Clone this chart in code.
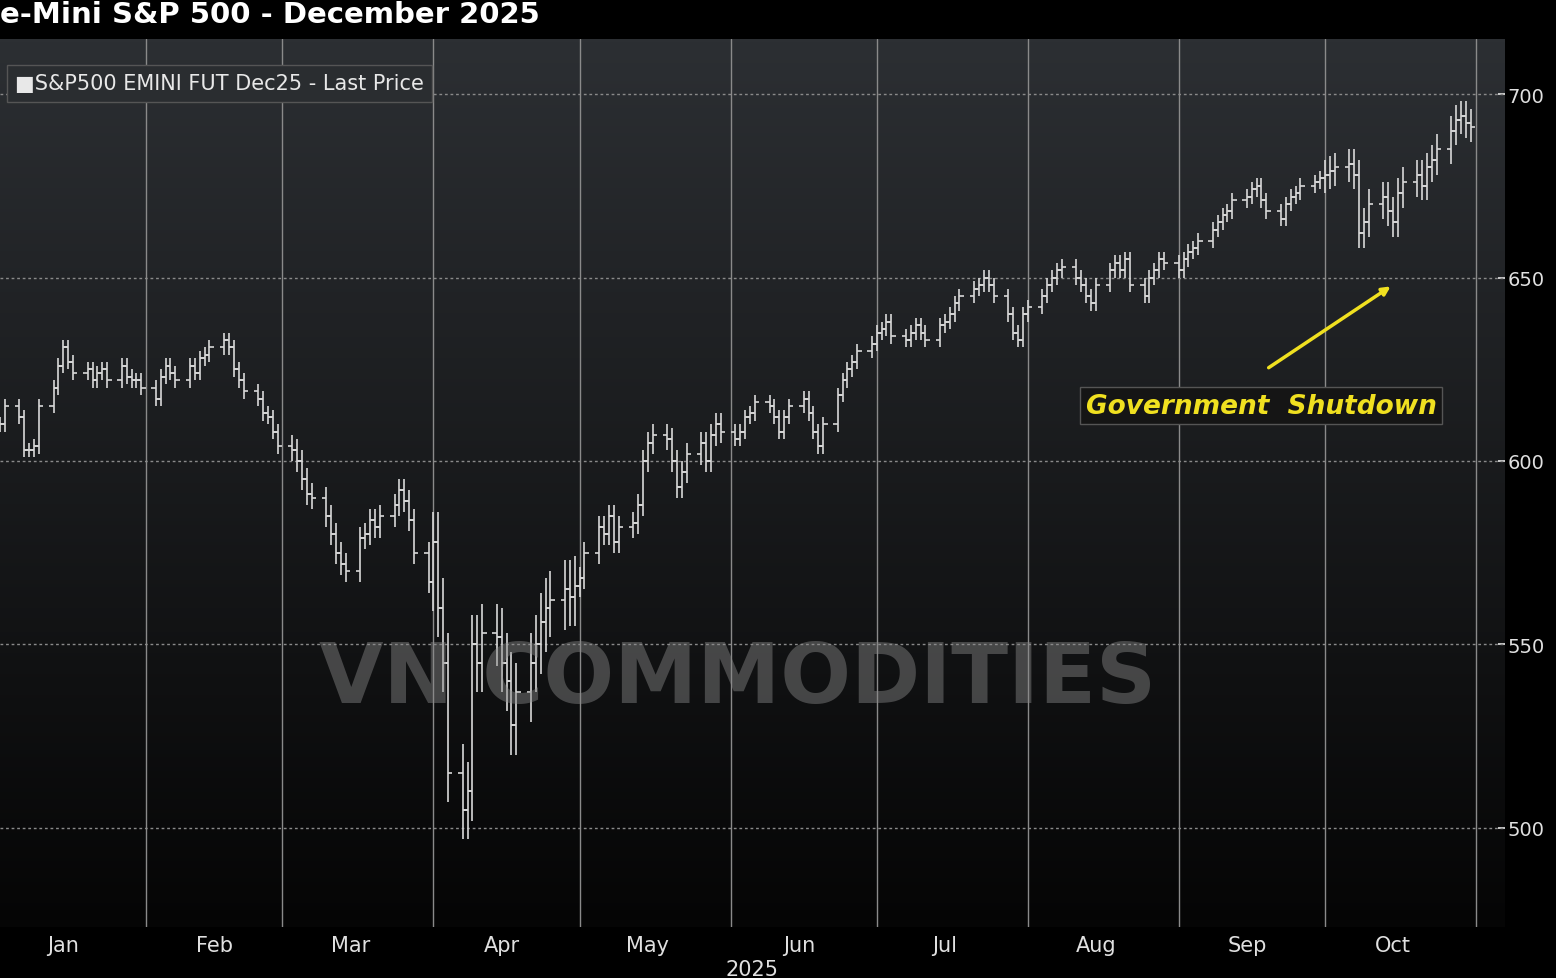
import numpy as np, pandas as pd, seaborn as sns, matplotlib
matplotlib.use("Agg")
import matplotlib.pyplot as plt, matplotlib.dates as mdates

jan=[610,615,612,603,603,604,615,620,626,631,627,624,625,622,624,625,622,626,623,622,622,620]
feb=[617,623,626,624,622,626,624,628,629,631,633,631,625,622,619,617,613,612,608,604]
mar=[603,600,595,591,590,585,580,575,572,570,579,580,584,582,585,588,592,589,584,575,567]
apr=[578,560,545,515,505,510,550,545,553,552,545,540,528,537,545,550,556,560,562,565,563,566]
may=[568,575,582,580,585,578,582,583,588,600,605,607,606,600,593,597,602,605,600,607,610,608]
jun=[606,608,612,613,616,615,612,608,612,615,617,613,608,604,610,618,622,625,627,630,632]
jul=[635,636,638,634,633,635,637,635,633,637,638,640,643,645,647,648,650,648,645,640,635,633,640]
aug=[642,645,648,650,652,653,650,648,645,643,648,652,654,652,655,648,645,650,652,655,654]
sep=[652,655,657,658,660,663,665,667,668,671,672,674,675,671,668,666,670,672,673,675,676,677]
oct_=[678,679,680,681,678,662,665,670,672,668,665,673,676,678,675,680,682,685,690,693,694,692,691]
spread_by_month=[2,2,3,8,3,2,2,2,2,4]
months=[jan,feb,mar,apr,may,jun,jul,aug,sep,oct_]
closes=[];spr=[];dates=[]
for i,(m,s) in enumerate(zip(months,spread_by_month)):
    start=pd.Timestamp(2025,i+1,1)
    bd=pd.bdate_range(start,start+pd.offsets.MonthEnd(0))
    if i==0: bd=bd[1:]
    bd=bd[-len(m):]
    closes+=m; spr+=[s]*len(m); dates+=list(bd)
closes=np.array(closes,float); spr=np.array(spr,float)
dates=pd.DatetimeIndex(dates)
opens=np.r_[closes[0],closes[:-1]]
highs=np.maximum(opens,closes)+spr; lows=np.minimum(opens,closes)-spr

sns.set_theme(style="dark")
fig=plt.figure(figsize=(15.56,9.79),dpi=100,facecolor="black")
ax=fig.add_axes([0,1-928/979,1505/1556,(928-40)/979])
grad=np.linspace(0,1,256).reshape(-1,1)
ax.imshow(grad,extent=[0,1,0,1],transform=ax.transAxes,aspect="auto",
          cmap=matplotlib.colors.LinearSegmentedColormap.from_list("g",["#050505","#2c2f33"]),origin="lower",zorder=0)
dn=mdates.date2num(dates)
ax.vlines(dn,lows,highs,color="#d8d8d8",lw=1.2,zorder=3)
w=0.9
ax.hlines(opens,dn-w,dn,color="#d8d8d8",lw=1.2,zorder=3)
ax.hlines(closes,dn,dn+w,color="#d8d8d8",lw=1.2,zorder=3)
ax.set_ylim(473,715)
ax.set_xlim(mdates.date2num(pd.Timestamp("2025-01-02")),mdates.date2num(pd.Timestamp("2025-11-07")))
ms=pd.date_range("2025-01-01","2025-11-01",freq="MS")
for d in ms[1:]:
    ax.axvline(d,color="#8a8a8a",lw=1,zorder=1)
for v in [500,550,600,650,700]:
    ax.axhline(v,color="#8a8a8a",lw=1,ls=(0,(2,2)),zorder=1)
ax.grid(False)
ax.yaxis.tick_right()
ax.set_yticks([500,550,600,650,700])
ax.tick_params(axis="y",colors="#e0e0e0",labelsize=14,length=5,direction="in",pad=2)
mids=[d+pd.Timedelta(days=14) for d in ms[:-1]]
ax.set_xticks(mids)
ax.set_xticklabels([d.strftime("%b") for d in ms[:-1]],color="#e0e0e0",fontsize=15)
ax.tick_params(axis="x",length=0,pad=6)
for s in ax.spines.values(): s.set_visible(False)
fig.text(0.466,0.003,"2025",color="#e0e0e0",fontsize=15)
fig.text(0.0,0.985,"e-Mini S&P 500 - December 2025",color="white",fontsize=21,fontweight="bold",va="center")
ax.text(0.01,0.95,"\u25a0S&P500 EMINI FUT Dec25 - Last Price",transform=ax.transAxes,color="#e8e8e8",fontsize=15,va="center",
        bbox=dict(facecolor="#2a2d30",edgecolor="#555",pad=6))
ax.annotate("",xy=(mdates.date2num(pd.Timestamp("2025-10-15")),648),
            xytext=(mdates.date2num(pd.Timestamp("2025-09-19")),625),
            arrowprops=dict(arrowstyle="-|>",color="#f0e020",lw=2.5),zorder=5)
ax.text(mdates.date2num(pd.Timestamp("2025-09-18")),615,"Government  Shutdown",color="#f0e020",fontsize=19,
        fontweight="bold",style="italic",ha="center",va="center",
        bbox=dict(facecolor="#151515",edgecolor="#555",pad=4),zorder=5)
ax.text(0.49,0.28,"VN COMMODITIES",transform=ax.transAxes,color="#888",alpha=0.45,fontsize=60,
        fontweight="bold",ha="center",va="center",zorder=4)
fig.savefig("out.png",facecolor="black")
